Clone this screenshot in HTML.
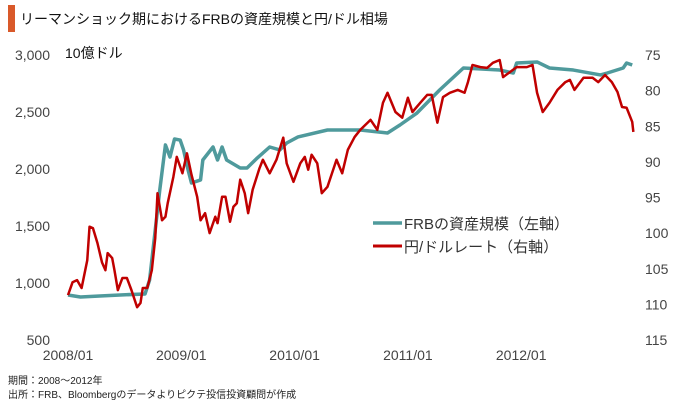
<!DOCTYPE html>
<html><head><meta charset="utf-8"><style>
body{margin:0;background:#fff;width:680px;height:406px;overflow:hidden;font-family:"Liberation Sans","Noto Sans CJK JP",sans-serif}
svg text{font-family:"Liberation Sans","Noto Sans CJK JP",sans-serif}
</style></head><body>
<svg id="c" width="680" height="406">
<rect x="8" y="5" width="7" height="27" fill="#d9592a"/>
<text x="20" y="24" font-size="14" fill="#111">リーマンショック期におけるFRBの資産規模と円/ドル相場</text>
<text x="65" y="58" font-size="14" fill="#111">10億ドル</text>
<g id="lt"></g><g id="rt"></g><g id="xt"></g>
<g id="lines"></g>
<line x1="373" y1="223" x2="402" y2="223" stroke="#4f9a9c" stroke-width="3.5"/>
<text x="404" y="229" font-size="15" fill="#333">FRBの資産規模（左軸）</text>
<line x1="373" y1="246" x2="402" y2="246" stroke="#c00000" stroke-width="3"/>
<text x="404" y="252" font-size="15" fill="#333">円/ドルレート（右軸）</text>
<text x="8" y="384" font-size="10" fill="#222">期間：2008～2012年</text>
<text x="8" y="398" font-size="10" fill="#222">出所：FRB、Bloombergのデータよりピクテ投信投資顧問が作成</text>
</svg>
<script>
const leftTicks=[3000,2500,2000,1500,1000,500];
const leftLabels=["3,000","2,500","2,000","1,500","1,000","500"];
const rightTicks=[75,80,85,90,95,100,105,110,115];
const xTicks=[2008,2009,2010,2011,2012];
const xLabels=["2008/01","2009/01","2010/01","2011/01","2012/01"];
const frbDates=[2008.00,2008.11,2008.28,2008.46,2008.68,2008.72,2008.77,2008.81,2008.86,2008.90,2008.94,2008.99,2009.02,2009.06,2009.09,2009.17,2009.19,2009.28,2009.32,2009.36,2009.40,2009.52,2009.58,2009.67,2009.78,2009.87,2009.93,2010.03,2010.29,2010.58,2010.82,2010.93,2011.08,2011.28,2011.49,2011.81,2011.93,2011.96,2012.14,2012.25,2012.46,2012.70,2012.76,2012.90,2012.93,2012.98];
const frbValues=[895,877,886,895,904,1026,1465,1816,2211,2105,2263,2254,2167,1991,1877,1904,2079,2193,2079,2193,2079,2009,2009,2096,2193,2167,2228,2281,2342,2342,2316,2386,2491,2693,2886,2868,2842,2930,2939,2886,2868,2825,2842,2886,2930,2912];
const yenDates=[2008.00,2008.04,2008.08,2008.12,2008.17,2008.19,2008.22,2008.26,2008.30,2008.33,2008.35,2008.39,2008.41,2008.44,2008.48,2008.52,2008.56,2008.61,2008.64,2008.66,2008.70,2008.74,2008.77,2008.79,2008.83,2008.86,2008.88,2008.93,2008.96,2009.01,2009.05,2009.09,2009.14,2009.17,2009.21,2009.25,2009.30,2009.32,2009.36,2009.39,2009.43,2009.46,2009.49,2009.52,2009.56,2009.59,2009.63,2009.69,2009.72,2009.78,2009.84,2009.90,2009.93,2009.99,2010.05,2010.09,2010.12,2010.15,2010.20,2010.24,2010.29,2010.33,2010.37,2010.42,2010.47,2010.53,2010.58,2010.67,2010.73,2010.78,2010.82,2010.89,2010.95,2011.00,2011.04,2011.11,2011.17,2011.21,2011.26,2011.31,2011.37,2011.44,2011.50,2011.53,2011.57,2011.64,2011.70,2011.75,2011.81,2011.84,2011.90,2011.96,2012.05,2012.10,2012.14,2012.19,2012.25,2012.32,2012.39,2012.43,2012.47,2012.55,2012.63,2012.68,2012.74,2012.80,2012.85,2012.89,2012.93,2012.98,2012.99];
const yenValues=[108.7,106.9,106.6,107.7,103.8,99.1,99.3,101.4,104.1,105.2,102.8,103.5,105.2,108.0,106.3,106.3,108.0,110.4,109.8,107.7,107.7,105.2,100.7,94.4,98.2,97.7,95.8,92.1,89.3,91.6,88.8,91.8,94.9,98.2,97.2,100.0,97.7,98.6,94.9,94.9,98.4,96.3,95.8,92.5,94.4,97.2,93.9,90.9,89.7,91.6,89.7,86.6,90.2,92.8,90.2,89.3,91.1,89.0,90.2,94.4,93.5,91.6,89.7,91.6,88.3,86.5,85.5,84.1,85.5,81.7,80.3,83.0,83.8,81.0,83.0,81.7,80.6,80.6,84.5,80.9,80.3,79.9,80.3,78.8,76.4,76.7,76.8,76.1,75.7,78.1,77.4,76.7,76.7,76.4,80.3,83.0,81.7,79.9,78.8,78.5,79.9,78.2,78.2,78.8,77.8,78.8,80.2,82.3,82.4,84.4,85.8];
const NS="http://www.w3.org/2000/svg";
const xS=t=>68+(t-2008)*113.3;
const yL=v=>55+(3000-v)/2500*285;
const yR=v=>55+(v-75)/40*285;
function mk(tag,parent,attrs){const e=document.createElementNS(NS,tag);for(const k in attrs)e.setAttribute(k,attrs[k]);document.getElementById(parent).appendChild(e);return e;}
leftTicks.forEach((v,i)=>{const t=mk('text','lt',{x:50,y:yL(v)+5,'font-size':14,fill:'#444','text-anchor':'end'});t.textContent=leftLabels[i];

});
rightTicks.forEach(v=>{const t=mk('text','rt',{x:645,y:yR(v)+5,'font-size':14,fill:'#444'});t.textContent=String(v);

});
xTicks.forEach((v,i)=>{const t=mk('text','xt',{x:xS(v),y:360,'font-size':14,fill:'#444','text-anchor':'middle'});t.textContent=xLabels[i];

});
const fp=mk('polyline','lines',{fill:'none',stroke:'#4f9a9c','stroke-width':3.5,'stroke-linejoin':'round',points:frbDates.map((d,i)=>xS(d)+','+yL(frbValues[i])).join(' ')});


const yp=mk('polyline','lines',{fill:'none',stroke:'#c00000','stroke-width':2.5,'stroke-linejoin':'round',points:yenDates.map((d,i)=>xS(d)+','+yR(yenValues[i])).join(' ')});


</script>
</body></html>
